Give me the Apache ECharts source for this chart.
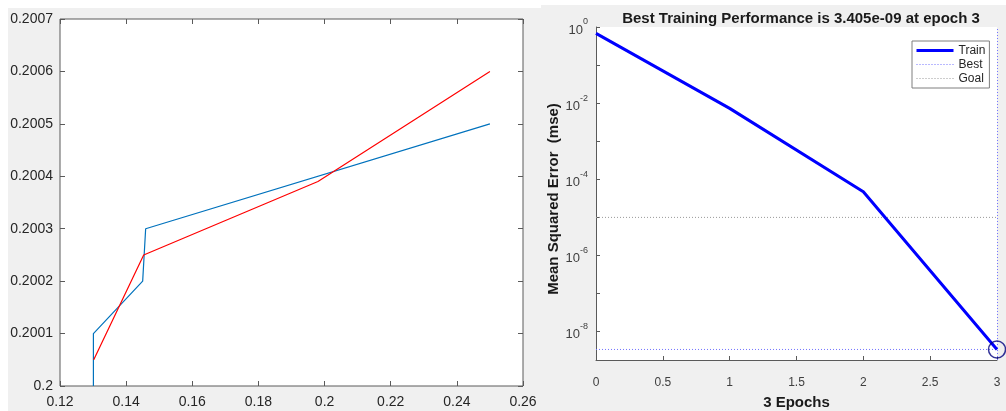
<!DOCTYPE html>
<html>
<head>
<meta charset="utf-8">
<title>Curve fit and training performance</title>
<script src="https://cdn.jsdelivr.net/npm/echarts@6.0.0/dist/echarts.min.js"></script>
<style>
  html, body { margin: 0; padding: 0; background: #fff; }
  .panel { position: absolute; background: #f0f0f0; }
  #chart { position: absolute; left: 0; top: 0; width: 1006px; height: 411px; }
</style>
</head>
<body>
<div class="panel" style="left:8px;top:8px;width:533px;height:403px"></div>
<div class="panel" style="left:541px;top:5px;width:465px;height:406px"></div>
<div id="chart"></div>
<script>
// left panel: two curves
const blueX = [0.1301, 0.1301, 0.1450, 0.1459, 0.2500]
const blueY = [0.2000, 0.2001, 0.2002, 0.2003, 0.2005]
const redX = [0.1302, 0.1453, 0.1980, 0.2500]
const redY = [0.20005, 0.20025, 0.20039, 0.2006]

// right panel: training performance
const epochs = [0, 1, 2, 3]
const trainMse = [0.68, 0.0073, 4.7e-5, 3.405e-9]
const bestEpoch = 3
const bestMse = 3.405e-9
const goalMse = 1e-5
const perfTitle = 'Best Training Performance is 3.405e-09 at epoch 3'
const legendNames = ['Train', 'Best', 'Goal']

const FONT = '"Liberation Sans", Arial, Helvetica, sans-serif'
const AXIS_COLOR = '#5a5a5a'
const TEXT_COLOR = '#262626'

const zip = (xs, ys) => xs.map((x, i) => [x, ys[i]])
const trimNum = (digits) => (v) => String(parseFloat(v.toFixed(digits)))

const innerTick = (len) => ({
  show: true,
  inside: true,
  length: len,
  lineStyle: { color: AXIS_COLOR, width: 1 },
})

// 10^k labels, only for even exponents
const powLabel = (v) => {
  const e = Math.log10(v)
  const k = Math.round(e)
  if (Math.abs(e - k) > 1e-6 || k % 2 !== 0) return ''
  return '{b|10}{s|' + k + '}'
}

const chart = echarts.init(document.getElementById('chart'))

const option = {
  animation: false,
  backgroundColor: 'transparent',
  title: {
    text: perfTitle,
    left: 796,
    top: 6,
    textAlign: 'center',
    textStyle: { fontSize: 15, fontWeight: 'bold', color: '#1a1a1a', fontFamily: FONT },
  },
  legend: {
    data: legendNames,
    orient: 'vertical',
    left: 912,
    top: 41,
    padding: [3, 4, 3, 3],
    itemWidth: 37,
    itemHeight: 13,
    itemGap: 1,
    backgroundColor: '#fff',
    borderColor: '#7f7f7f',
    borderWidth: 1,
    borderRadius: 0,
    selectedMode: false,
    itemStyle: { opacity: 0 },
    lineStyle: { width: 'inherit' },
    textStyle: { fontSize: 12, color: TEXT_COLOR, fontFamily: FONT, lineHeight: 13 },
  },
  grid: [
    {
      left: 60, top: 19, width: 463, height: 367,
      show: true, backgroundColor: '#fff', borderColor: AXIS_COLOR, borderWidth: 1,
      outerBoundsMode: 'none',
    },
    {
      left: 596, top: 27, width: 401, height: 333,
      show: true, backgroundColor: '#fff', borderWidth: 0,
      outerBoundsMode: 'none',
    },
  ],
  xAxis: [
    {
      gridIndex: 0,
      type: 'value',
      min: 0.12,
      max: 0.26,
      interval: 0.02,
      axisLine: { show: false },
      axisTick: innerTick(5),
      splitLine: { show: false },
      axisLabel: { color: TEXT_COLOR, fontSize: 14, fontFamily: FONT, margin: 9, formatter: trimNum(2) },
    },
    {
      gridIndex: 0,
      type: 'value',
      position: 'top',
      min: 0.12,
      max: 0.26,
      interval: 0.02,
      axisLine: { show: false },
      axisTick: innerTick(5),
      splitLine: { show: false },
      axisLabel: { show: false },
    },
    {
      gridIndex: 1,
      type: 'value',
      min: 0,
      max: 3,
      interval: 0.5,
      name: '3 Epochs',
      nameLocation: 'middle',
      nameGap: 35,
      nameTextStyle: { fontSize: 15, fontWeight: 'bold', color: '#1a1a1a', fontFamily: FONT },
      axisLine: { show: true, lineStyle: { color: AXIS_COLOR, width: 1 } },
      axisTick: innerTick(4),
      splitLine: { show: false },
      axisLabel: { color: '#404040', fontSize: 12, fontFamily: FONT, margin: 17, formatter: trimNum(1) },
    },
  ],
  yAxis: [
    {
      gridIndex: 0,
      type: 'value',
      min: 0.2,
      max: 0.2007,
      interval: 0.0001,
      axisLine: { show: false },
      axisTick: innerTick(5),
      splitLine: { show: false },
      axisLabel: { color: TEXT_COLOR, fontSize: 14, fontFamily: FONT, margin: 7, formatter: trimNum(4) },
    },
    {
      gridIndex: 0,
      type: 'value',
      position: 'right',
      min: 0.2,
      max: 0.2007,
      interval: 0.0001,
      axisLine: { show: false },
      axisTick: innerTick(5),
      splitLine: { show: false },
      axisLabel: { show: false },
    },
    {
      gridIndex: 1,
      type: 'log',
      logBase: 10,
      min: 1.8e-9,
      max: 1,
      name: 'Mean Squared Error  (mse)',
      nameLocation: 'middle',
      nameGap: 32,
      nameTextStyle: {
        fontSize: 15, fontWeight: 'bold', color: '#1a1a1a', fontFamily: FONT,
        padding: [0, 11, 0, 0],
      },
      axisLine: { show: true, lineStyle: { color: AXIS_COLOR, width: 1 } },
      axisTick: innerTick(4),
      splitLine: { show: false },
      axisLabel: {
        margin: 8,
        formatter: powLabel,
        rich: {
          b: { fontSize: 13, color: '#404040', fontFamily: FONT, lineHeight: 19, verticalAlign: 'bottom' },
          s: { fontSize: 9, color: '#404040', fontFamily: FONT, lineHeight: 19, verticalAlign: 'top' },
        },
      },
    },
  ],
  series: [
    {
      name: 'fitA',
      type: 'line',
      xAxisIndex: 0,
      yAxisIndex: 0,
      data: zip(blueX, blueY),
      symbol: 'none',
      lineStyle: { color: '#0072bd', width: 1.2 },
      itemStyle: { color: '#0072bd' },
    },
    {
      name: 'fitB',
      type: 'line',
      xAxisIndex: 0,
      yAxisIndex: 0,
      data: zip(redX, redY),
      symbol: 'none',
      lineStyle: { color: '#ff0000', width: 1.2 },
      itemStyle: { color: '#ff0000' },
    },
    {
      name: 'Train',
      type: 'line',
      xAxisIndex: 2,
      yAxisIndex: 2,
      data: zip(epochs, trainMse),
      symbol: 'none',
      z: 4,
      lineStyle: { color: '#0000ff', width: 3 },
      itemStyle: { color: '#0000ff' },
    },
    {
      name: 'Best',
      type: 'line',
      xAxisIndex: 2,
      yAxisIndex: 2,
      data: [[epochs[0], bestMse], [bestEpoch, bestMse]],
      symbol: 'none',
      lineStyle: { color: '#7373ff', width: 1, type: [1, 2] },
      itemStyle: { color: '#7373ff' },
      markLine: {
        silent: true,
        symbol: ['none', 'none'],
        label: { show: false },
        lineStyle: { color: '#7373ff', width: 1, type: [1, 2] },
        data: [{ xAxis: bestEpoch }],
      },
    },
    {
      name: 'Goal',
      type: 'line',
      xAxisIndex: 2,
      yAxisIndex: 2,
      data: [[epochs[0], goalMse], [epochs[epochs.length - 1], goalMse]],
      symbol: 'none',
      lineStyle: { color: '#9a9a9a', width: 1, type: [1, 2] },
      itemStyle: { color: '#9a9a9a' },
    },
    {
      name: 'bestPoint',
      type: 'scatter',
      xAxisIndex: 2,
      yAxisIndex: 2,
      data: [[bestEpoch, bestMse]],
      symbol: 'circle',
      symbolSize: 17,
      clip: false,
      silent: true,
      z: 5,
      itemStyle: { color: 'rgba(0,0,0,0)', borderColor: '#00007f', borderWidth: 1.5 },
    },
  ],
}

chart.setOption(option)
</script>
</body>
</html>
